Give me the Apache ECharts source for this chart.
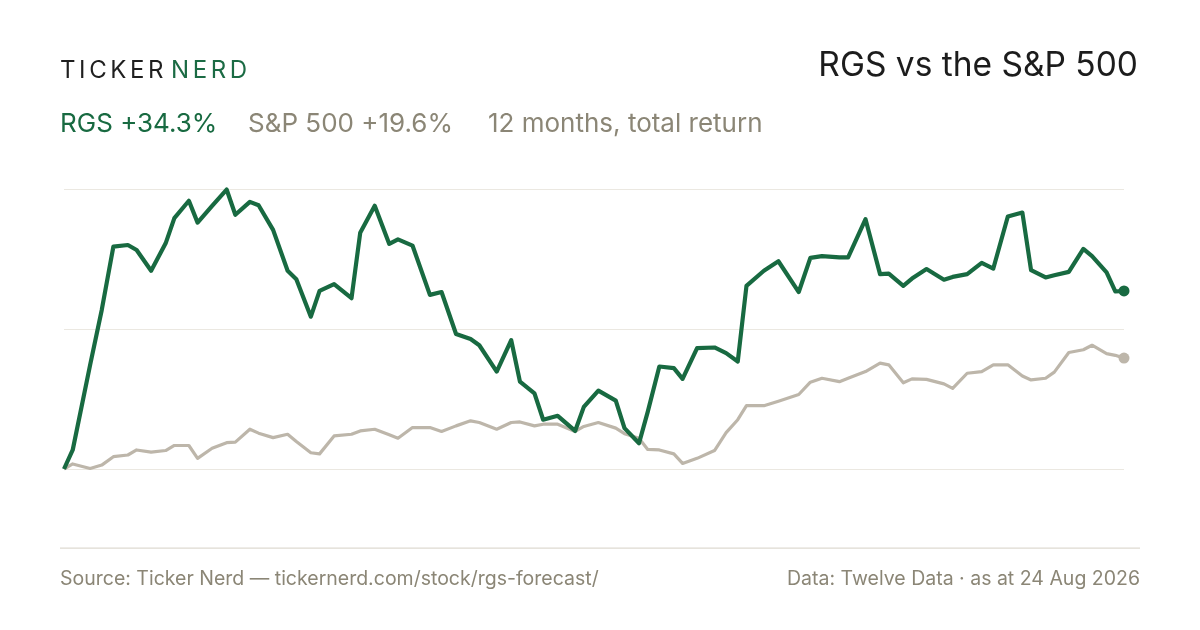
<!DOCTYPE html>
<html>
<head>
<meta charset="utf-8">
<script src="https://cdn.jsdelivr.net/npm/echarts@6/dist/echarts.min.js"></script>
<style>
  html, body { margin: 0; padding: 0; background: #fff; }
  #wrap { position: relative; width: 1200px; height: 630px; }
  #chart { position: absolute; left: 0; top: 0; width: 1200px; height: 630px; }
  #logo {
    position: absolute; left: 60px; top: 55px; z-index: 2;
    font-family: Inter, "Noto Sans", sans-serif; font-size: 24px;
    letter-spacing: 3.6px; color: #1f1f1f; line-height: 30px;
  }
  #logo span { color: #1b6b44; margin-left: 4px; }
</style>
</head>
<body>
<div id="wrap">
  <div id="chart"></div>
  <div id="logo">TICKER<span>NERD</span></div>
</div>
<script>
// days since 24 Aug 2025 for each sample
const days = [0, 3, 9, 13, 17, 22, 25, 30, 35, 38, 43, 46, 51, 56, 59, 64, 67, 72, 77, 80,
  85, 88, 93, 99, 102, 107, 112, 115, 120, 126, 130, 135, 140, 143, 149, 154, 157, 162, 165, 170,
  176, 179, 184, 190, 193, 198, 201, 205, 210, 213, 218, 224, 228, 232, 235, 241, 246, 253, 257, 261,
  267, 270, 276, 281, 284, 289, 292, 297, 303, 306, 311, 316, 320, 325, 330, 333, 338, 341, 346, 351,
  354, 359, 362, 365];

// cumulative total return, %
const rgs = [0, 3.4, 18.6, 28.4, 39.7, 40.0, 39.1, 35.4, 40.3, 44.8, 47.9, 44.0, 47.0, 49.9, 45.4, 47.7, 47.1, 42.7, 35.4, 33.9,
  27.2, 31.8, 33.0, 30.5, 42.2, 47.0, 40.2, 41.0, 39.9, 31.1, 31.6, 24.1, 23.2, 22.1, 17.4, 23.0, 15.6, 13.5, 8.8, 9.5,
  6.8, 11.1, 14.0, 12.2, 7.3, 4.6, 10.2, 18.3, 18.0, 16.1, 21.6, 21.7, 20.7, 19.2, 32.7, 35.4, 37.1, 31.6, 37.7, 38.0,
  37.8, 37.8, 44.6, 34.8, 34.9, 32.7, 34.0, 35.7, 33.8, 34.3, 34.8, 36.8, 35.8, 45.1, 45.8, 35.5, 34.2, 34.6, 35.2, 39.3,
  38.0, 35.1, 31.7, 31.8];

const spx = [0, 0.9, 0.1, 0.7, 2.2, 2.5, 3.4, 3.0, 3.3, 4.2, 4.2, 1.9, 3.7, 4.7, 4.8, 7.1, 6.4, 5.6, 6.2, 4.9,
  2.9, 2.7, 5.9, 6.2, 6.8, 7.1, 6.1, 5.5, 7.4, 7.4, 6.7, 7.7, 8.6, 8.3, 7.1, 8.3, 8.4, 7.7, 8.0, 8.0,
  6.7, 7.6, 8.3, 7.3, 6.3, 5.5, 3.5, 3.4, 2.7, 1.0, 1.9, 3.3, 6.5, 8.8, 11.3, 11.3, 12.1, 13.3, 15.5, 16.2,
  15.6, 16.2, 17.4, 18.9, 18.6, 15.4, 16.1, 16.0, 15.2, 14.4, 17.1, 17.4, 18.6, 18.6, 16.6, 15.9, 16.2, 17.3, 20.8, 21.3,
  22.1, 20.6, 20.3, 19.8];

const yTicks = [0, 25, 50];

const GREEN = '#186a41';
const SAND = '#bdb6aa';
const MUTED = '#8b8676';
const FONT = 'Inter, "Noto Sans", sans-serif';

const pairs = arr => days.map((d, i) => [d, arr[i]]);
const last = arr => [[days[days.length - 1], arr[arr.length - 1]]];

const chart = echarts.init(document.getElementById('chart'));
chart.setOption({
  backgroundColor: '#ffffff',
  animation: false,
  grid: { left: 64, right: 76, top: 189, bottom: 161 },
  xAxis: {
    type: 'value', min: 0, max: 365,
    axisLine: { show: false }, axisTick: { show: false },
    axisLabel: { show: false }, splitLine: { show: false }
  },
  yAxis: {
    type: 'value', min: yTicks[0], max: yTicks[yTicks.length - 1], interval: 25,
    axisLine: { show: false }, axisTick: { show: false }, axisLabel: { show: false },
    splitLine: { lineStyle: { color: '#ebe8e1', width: 1.2 } }
  },
  graphic: [
    { type: 'text', right: 62, top: 49,
      style: { text: 'RGS vs the S&P 500', font: '400 33.5px ' + FONT, fill: '#1c1c1c' } },
    { type: 'text', left: 60, top: 111,
      style: { text: 'RGS +34.3%', font: '400 26px ' + FONT, fill: GREEN } },
    { type: 'text', left: 248, top: 111,
      style: { text: 'S&P 500 +19.6%', font: '400 26px ' + FONT, fill: MUTED } },
    { type: 'text', left: 488, top: 111,
      style: { text: '12 months, total return', font: '400 26px ' + FONT, fill: MUTED } },
    { type: 'rect', shape: { x: 60, y: 547.5, width: 1080, height: 1.2 },
      style: { fill: '#dedad1' } },
    { type: 'text', left: 60, top: 569,
      style: { text: 'Source: Ticker Nerd \u2014 tickernerd.com/stock/rgs-forecast/', font: '400 19.5px ' + FONT, fill: MUTED } },
    { type: 'text', right: 60, top: 569,
      style: { text: 'Data: Twelve Data \u00b7 as at 24 Aug 2026', font: '400 19.5px ' + FONT, fill: MUTED } }
  ],
  series: [
    {
      name: 'S&P 500', type: 'line', data: pairs(spx), showSymbol: false,
      lineStyle: { color: SAND, width: 3.2, join: 'round' }, z: 2
    },
    {
      name: 'RGS', type: 'line', data: pairs(rgs), showSymbol: false,
      lineStyle: { color: GREEN, width: 4.2, join: 'round' }, z: 3
    },
    {
      type: 'scatter', data: last(spx), symbolSize: 11,
      itemStyle: { color: SAND, opacity: 1 }, z: 4
    },
    {
      type: 'scatter', data: last(rgs), symbolSize: 11,
      itemStyle: { color: GREEN, opacity: 1 }, z: 5
    }
  ]
});
</script>
</body>
</html>
